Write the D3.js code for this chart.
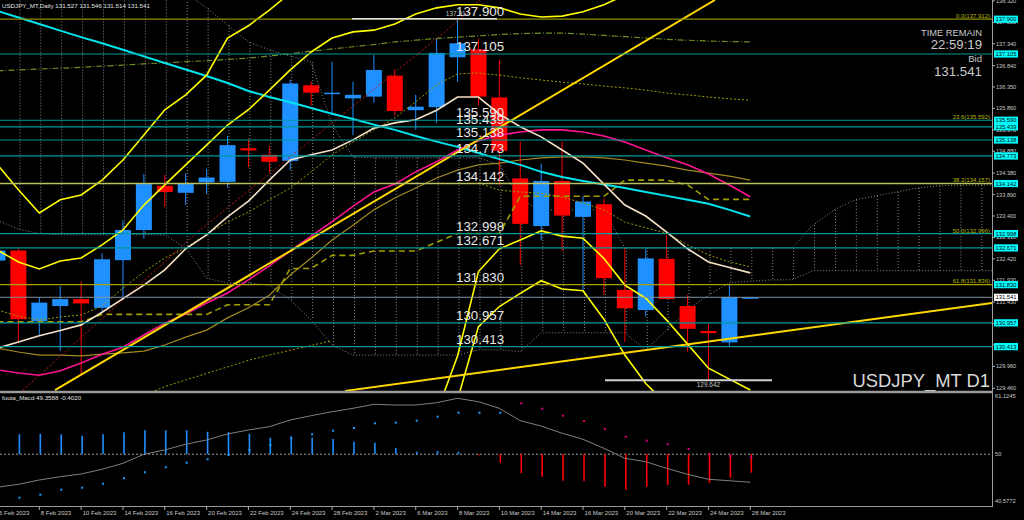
<!DOCTYPE html>
<html><head><meta charset="utf-8">
<script src="https://cdn.jsdelivr.net/npm/d3@7"></script>
<style>html,body{margin:0;padding:0;background:#000;overflow:hidden}svg{display:block}text{font-family:"Liberation Sans",Arial,sans-serif}</style>
</head><body><svg id="c" width="1024" height="520"></svg>
<script>
// ---------- data ----------
const dates = ["6 Feb 2023","7 Feb 2023","8 Feb 2023","9 Feb 2023","10 Feb 2023","13 Feb 2023","14 Feb 2023","15 Feb 2023","16 Feb 2023","17 Feb 2023","20 Feb 2023","21 Feb 2023","22 Feb 2023","23 Feb 2023","24 Feb 2023","27 Feb 2023","28 Feb 2023","1 Mar 2023","2 Mar 2023","3 Mar 2023","6 Mar 2023","7 Mar 2023","8 Mar 2023","9 Mar 2023","10 Mar 2023","13 Mar 2023","14 Mar 2023","15 Mar 2023","16 Mar 2023","17 Mar 2023","20 Mar 2023","21 Mar 2023","22 Mar 2023","23 Mar 2023","24 Mar 2023","27 Mar 2023","28 Mar 2023"];
const open  = [132.38,132.61,130.99,131.34,131.50,131.30,132.39,133.08,134.09,133.93,134.17,134.18,134.95,134.80,134.66,136.39,136.20,136.09,136.13,136.61,135.82,135.89,137.03,137.21,136.11,134.26,133.17,134.20,133.38,133.67,131.71,131.25,132.42,131.34,130.77,130.51,131.527];
const high  = [132.90,132.70,131.53,131.80,131.90,132.55,133.30,134.36,134.34,134.38,134.48,135.23,135.17,135.00,136.52,136.48,136.93,136.47,137.08,136.75,136.17,137.45,137.912,137.45,136.98,135.10,134.60,135.10,133.85,133.80,132.67,132.65,132.97,131.59,130.93,131.82,131.546];
const low   = [131.90,130.50,130.68,130.32,129.79,131.22,131.48,132.88,133.61,133.65,133.90,134.05,134.52,134.40,134.45,135.93,135.71,135.25,135.99,135.70,135.37,135.53,136.47,135.92,134.10,132.28,132.85,132.60,131.70,131.60,130.52,131.10,131.50,130.30,129.642,130.43,131.514];
const close = [132.61,131.04,131.42,131.50,131.40,132.41,133.08,134.13,133.95,134.14,134.28,135.02,134.90,134.64,136.43,136.22,136.22,136.17,136.74,135.80,135.90,137.13,137.35,136.13,134.89,133.22,134.20,133.41,133.73,131.98,131.29,132.43,131.50,130.82,130.72,131.55,131.541];

const maFast  = [130.38,130.52,130.66,130.78,130.91,131.20,131.51,131.82,132.17,132.65,132.97,133.38,133.74,134.22,134.68,134.80,134.91,135.14,135.41,135.53,135.60,135.82,136.12,136.12,135.73,135.44,135.21,134.91,134.61,134.13,133.65,133.40,133.03,132.65,132.35,132.22,132.10];
const maMid   = [129.88,129.81,129.76,129.86,130.04,130.24,130.40,130.68,130.95,131.16,131.41,131.64,131.94,132.26,132.60,132.94,133.27,133.62,133.95,134.13,134.41,134.64,134.91,135.12,135.25,135.32,135.37,135.37,135.32,135.23,135.09,134.91,134.73,134.57,134.36,134.11,133.84];
const maLong  = [138.09,137.94,137.79,137.64,137.49,137.35,137.20,137.05,136.90,136.75,136.60,136.44,136.26,136.12,136.00,135.87,135.74,135.62,135.49,135.37,135.23,135.10,134.98,134.84,134.70,134.57,134.41,134.29,134.20,134.12,134.04,133.95,133.86,133.77,133.68,133.54,133.39];
const maOlive = [130.38,130.29,130.22,130.22,130.20,130.24,130.27,130.31,130.45,130.63,130.79,131.07,131.30,131.59,132.05,132.44,132.85,133.19,133.54,133.81,134.04,134.27,134.45,134.57,134.61,134.68,134.73,134.75,134.75,134.73,134.68,134.61,134.54,134.45,134.38,134.31,134.22];
const maDotted = [131.25,131.11,131.02,131.09,131.14,131.34,131.75,132.12,132.44,132.67,132.99,133.26,133.49,133.77,134.04,134.41,134.80,135.09,135.37,135.64,136.01,136.40,136.65,136.67,136.62,136.56,136.51,136.46,136.42,136.37,136.33,136.28,136.21,136.17,136.12,136.08,136.05];
const envDown = [null,null,null,null,null,null,null,null,null,null,null,null,null,null,null,null,null,null,null,null,null,null,null,134.16,133.99,133.95,133.92,133.83,133.70,133.54,133.26,133.13,133.01,132.74,132.51,132.35,132.24];
const envLow  = [null,null,null,null,null,null,null,129.30,129.50,129.65,129.80,129.95,130.10,130.22,130.33,130.44,130.55];
const maGreen = [136.72,136.74,136.76,136.78,136.80,136.83,136.85,136.88,136.90,136.93,136.95,136.98,137.01,137.06,137.11,137.17,137.22,137.27,137.32,137.38,137.42,137.46,137.49,137.52,137.55,137.57,137.58,137.58,137.56,137.53,137.50,137.47,137.44,137.42,137.40,137.39,137.38];
const kijun   = [130.98,130.98,130.98,130.98,130.98,131.15,131.15,131.15,131.15,131.15,131.15,131.37,131.37,131.37,132.20,132.20,132.50,132.50,132.60,132.60,132.60,132.80,133.00,133.00,133.00,133.85,133.85,133.85,133.85,133.85,134.22,134.22,134.22,134.11,133.78,133.78,133.78];

const bbUp2  = [132.62,132.35,132.19,132.37,132.44,132.74,133.08,133.65,134.11,134.57,135.02,135.48,135.83,136.28,136.74,137.15,137.47,137.61,137.65,137.79,138.02,138.16,138.23,138.23,138.16,138.02,137.95,137.97,138.07,138.23,138.45,138.70];
const bbUp3  = [134.57,134.00,133.47,133.77,133.88,134.22,134.68,135.25,135.83,136.17,136.62,137.47,137.75,138.11,138.50,138.90];
const bbLow2 = [null,null,null,null,null,null,null,null,null,null,null,null,null,null,null,null,null,null,null,null,null,128.90,130.20,132.13,132.65,132.85,133.06,132.94,132.89,132.43,131.82,131.52,131.02,130.47,129.92,129.67,129.42];
const bbLow3 = [null,null,null,null,null,null,null,null,null,null,null,null,null,null,null,null,null,null,null,null,null,null,129.20,130.87,131.33,131.63,131.92,131.73,131.69,131.04,130.22,129.57,129.10,128.50,128.00,127.70,127.50];

// Ichimoku cloud edges (bars 0..48, cloud runs past the last bar)
const spanA = [138.6,138.6,138.6,138.6,138.6,138.6,138.6,138.6,138.6,138.5,138.16,137.77,137.38,137.20,137.06,136.92,135.48,134.75,134.73,134.73,134.73,134.73,134.73,134.73,134.57,133.77,133.54,133.54,133.54,133.54,132.67,132.67,132.67,132.67,132.67,132.67,132.67,132.67,132.67,133.19,133.54,133.77,133.86,133.95,134.04,134.09,134.10,134.11,134.11];
const spanB = [133.30,133.10,133.00,132.97,132.97,132.97,132.97,132.97,132.97,132.67,131.98,131.87,131.87,131.82,131.48,131.02,130.45,130.22,130.22,130.22,130.22,130.22,130.22,130.34,130.34,130.30,130.73,130.73,130.73,130.73,130.73,130.34,130.79,131.25,131.59,131.87,131.91,131.94,131.94,132.15,132.15,132.15,132.15,132.15,132.15,132.15,132.15,132.15,132.15];

const redTrend  = [[1.22,129.42],[9.68,133.08],[21.50,137.65],[23.07,138.34]];
const trendUp   = [[2.75,129.42],[34.31,138.34]];
const trendLow  = [[16.62,129.40],[47.56,131.41]];

const levels   = [137.900,137.105,135.590,135.439,135.138,134.773,134.142,132.998,132.671,131.830,130.957,130.413];
const fibPct   = ["0.0","23.6","38.2","50.0","61.8"];
const fibPrice = [137.912,135.592,134.157,132.996,131.836];
const bid = 131.541;
const axisTicks = [138.320,137.830,137.340,136.840,136.350,135.860,135.370,134.880,134.380,133.890,133.400,132.910,132.420,131.930,131.430,130.940,130.450,129.960,129.460];
const lowMark = 129.642, highMark = 137.912;

const macdHist = [53.5,53.61,53.72,53.61,53.36,53.61,53.97,54.34,54.34,54.34,54.08,54.03,53.72,52.99,53.25,52.99,52.76,52.27,52.09,51.12,50.45,50.58,50.45,49.8,48.45,46.52,45.91,45.18,45.07,44.09,43.54,44.09,44.40,44.45,44.76,45.72,46.63];
const macdLine = [43.98,44.52,45.31,45.91,46.40,47.25,48.34,49.98,50.76,51.80,52.58,53.67,54.40,55.00,56.22,57.00,57.72,58.34,59.07,58.94,58.94,59.36,60.16,59.54,58.34,56.09,55.12,53.80,52.71,51.07,49.25,48.63,47.43,46.34,45.43,45.17,44.89];
const macdDots = [null,42.09,42.63,43.54,43.91,44.63,45.62,46.71,47.62,48.45,49.07,49.85,50.76,51.67,52.89,53.62,54.27,54.76,55.61,55.72,56.09,56.82,57.54,57.54,57.54,59.25,58.27,57.00,56.03,54.58,53.18,52.46,51.80,50.94,50.03,49.67,49.43];
const macdTicks = ["61.1245","50","40.5772"];

// ---------- setup ----------
const svg = d3.select('#c');
svg.append('rect').attr('width',1024).attr('height',520).attr('fill','#000');
const defs = svg.append('defs');
defs.append('clipPath').attr('id','cm').append('rect').attr('x',0).attr('y',0).attr('width',992).attr('height',391);
defs.append('clipPath').attr('id','cs').append('rect').attr('x',0).attr('y',394).attr('width',992).attr('height',112);

const x  = d3.scaleLinear().domain([0,36]).range([-2.5,750.3]);
const y  = d3.scaleLinear().domain([129.46,137.34]).range([388.3,43.7]);
const ym = d3.scaleLinear().domain([40.5772,61.1245]).range([506,393]);

const main = svg.append('g').attr('clip-path','url(#cm)');
const sub  = svg.append('g').attr('clip-path','url(#cs)');
const line = d3.line().defined(d=>d!=null).x((d,i)=>x(i)).y(d=>y(d));
const tl = d3.line().x(d=>x(d[0])).y(d=>y(d[1]));
const path=(g,data,col,w,dash,gen)=>g.append('path').datum(data).attr('d',gen||line).attr('fill','none').attr('stroke',col).attr('stroke-width',w).attr('stroke-dasharray',dash||null);

// Ichimoku cloud hatching
const DOT='1,2';
spanA.forEach((a,i)=>{
  main.append('line').attr('x1',x(i)+1.5).attr('x2',x(i)+1.5).attr('y1',y(a)).attr('y2',y(spanB[i])).attr('stroke','#8a8a8a').attr('stroke-dasharray',DOT);
});
path(main,spanA,'#8a8a8a',1,DOT);
path(main,spanB,'#8a8a8a',1,DOT);

// candles
const BULL='#1e90ff', BEAR='#ff0000';
const cg = main.append('g');
open.forEach((o,i)=>{
  const c=close[i], col = c>=o?BULL:BEAR;
  cg.append('line').attr('x1',x(i)).attr('x2',x(i)).attr('y1',y(high[i])).attr('y2',y(low[i])).attr('stroke',col).attr('stroke-width',1);
  const t=y(Math.max(o,c)), b=y(Math.min(o,c));
  cg.append('rect').attr('x',x(i)-8).attr('width',16).attr('y',t).attr('height',Math.max(1.5,b-t)).attr('fill',col);
});

// indicator lines
path(main,maGreen,'#6b8e23',1.2,'6,2,1,2');
path(main,maDotted,'#a09a00',1,'2,2');
path(main,envDown,'#a09a00',1,'2,2');
path(main,envLow,'#a09a00',1,'2,2');
path(main,maOlive,'#a08a20',1.2);
path(main,kijun,'#a0a000',1.6,'6,4');
path(main,redTrend,'#c01818',1,'2,2',tl);
path(main,maLong,'#00e5ee',2);
path(main,maMid,'#ff1493',1.6);
path(main,maFast,'#f5e1c8',1.6);
[bbUp2,bbUp3,bbLow2,bbLow3].forEach(b=>path(main,b,'#ffff00',1.6));
path(main,trendUp,'#ffd700',2,null,tl);
path(main,trendLow,'#ffd700',2,null,tl);

// horizontal levels
const levelCol = ['#8c8c00','#009a9a','#009a9a','#009a9a','#009a9a','#009a9a','#b8c060','#009a9a','#009a9a','#a8a000','#009a9a','#009a9a'];
levels.forEach((v,k)=>{
  main.append('line').attr('x1',0).attr('x2',992).attr('y1',y(v)).attr('y2',y(v)).attr('stroke',levelCol[k]).attr('stroke-width',k===6?1.6:1.2);
});
main.append('line').attr('x1',0).attr('x2',992).attr('y1',y(bid)).attr('y2',y(bid)).attr('stroke','#8090a0').attr('stroke-width',1);
levels.forEach(v=>{
  main.append('text').attr('x',456).attr('y',y(v)-3).attr('fill','#e8e8e8').attr('font-size',13.3).text(v.toFixed(3));
});
fibPrice.forEach((v,k)=>{
  main.append('text').attr('x',990).attr('y',y(v)-1).attr('text-anchor','end').attr('fill','#b8b800').attr('font-size',6).text(fibPct[k]+'('+v.toFixed(3)+')');
});

// high/low markers
main.append('line').attr('x1',352).attr('x2',497).attr('y1',y(highMark)).attr('y2',y(highMark)).attr('stroke','#e0e0e0').attr('stroke-width',1.5);
main.append('text').attr('x',x(22)).attr('y',y(highMark)-3).attr('text-anchor','middle').attr('fill','#c0c0c0').attr('font-size',6.5).text(highMark.toFixed(3));
main.append('line').attr('x1',605).attr('x2',772).attr('y1',y(lowMark)).attr('y2',y(lowMark)).attr('stroke','#d0d0d0').attr('stroke-width',2);
main.append('text').attr('x',x(34)).attr('y',y(lowMark)+7).attr('text-anchor','middle').attr('fill','#c0c0c0').attr('font-size',6.5).text(lowMark.toFixed(3));

// texts
main.append('text').attr('x',2).attr('y',8).attr('fill','#e0e0e0').attr('font-size',6.2).text('USDJPY_MT,Daily  '+[open[36],high[36],low[36],close[36]].map(v=>v.toFixed(3)).join(' '));
const info=[['TIME REMAIN',35.7,9.3],['22:59:19',48.7,13.2],['Bid',62.3,9.5],[bid.toFixed(3),75.7,13.3]];
info.forEach(d=>main.append('text').attr('x',982).attr('y',d[1]).attr('text-anchor','end').attr('fill','#c8c8c8').attr('font-size',d[2]).text(d[0]));
main.append('text').attr('x',990).attr('y',386.7).attr('text-anchor','end').attr('fill','#d8d8d8').attr('font-size',18.4).text('USDJPY_MT D1');

// frame
svg.append('line').attr('x1',0).attr('x2',992).attr('y1',392).attr('y2',392).attr('stroke','#9a9a9a').attr('stroke-width',2.5);
svg.append('line').attr('x1',992.5).attr('x2',992.5).attr('y1',0).attr('y2',506).attr('stroke','#9a9a9a').attr('stroke-width',1);
svg.append('line').attr('x1',0).attr('x2',993).attr('y1',506.5).attr('y2',506.5).attr('stroke','#9a9a9a').attr('stroke-width',1);

// right axis
const ax = svg.append('g');
axisTicks.forEach(v=>{
  ax.append('line').attr('x1',992).attr('x2',995).attr('y1',y(v)).attr('y2',y(v)).attr('stroke','#aaa');
  ax.append('text').attr('x',996).attr('y',y(v)+2).attr('fill','#c8c8c8').attr('font-size',5.6).text(v.toFixed(3));
});
levels.forEach(v=>{
  ax.append('rect').attr('x',994).attr('y',y(v)-3.6).attr('width',24).attr('height',7.2).attr('fill','#00ffff');
  ax.append('text').attr('x',995.5).attr('y',y(v)+2.1).attr('fill','#000').attr('font-size',5.8).text(v.toFixed(3));
});
ax.append('rect').attr('x',994).attr('y',y(bid)-3.6).attr('width',24).attr('height',7.2).attr('fill','#fff');
ax.append('text').attr('x',995.5).attr('y',y(bid)+2.1).attr('fill','#000').attr('font-size',5.8).text(bid.toFixed(3));

// MACD subwindow
sub.append('line').attr('x1',0).attr('x2',992).attr('y1',ym(50)).attr('y2',ym(50)).attr('stroke','#a0a0a0').attr('stroke-dasharray','2,2');
macdHist.forEach((v,i)=>{
  sub.append('line').attr('x1',x(i)+1).attr('x2',x(i)+1).attr('y1',ym(50)).attr('y2',ym(v)).attr('stroke',v>=50?BULL:BEAR).attr('stroke-width',1.6);
});
sub.append('path').datum(macdLine).attr('d',d3.line().x((d,i)=>x(i)).y(d=>ym(d))).attr('fill','none').attr('stroke','#808080').attr('stroke-width',1);
macdDots.forEach((v,i)=>{ if(v==null) return;
  sub.append('rect').attr('x',x(i)).attr('y',ym(v)-1).attr('width',2).attr('height',2).attr('fill',i>=25?'#e0007a':'#1e9fff');
});
svg.append('text').attr('x',2).attr('y',400).attr('fill','#e0e0e0').attr('font-size',6.2).text('fuuta_Macd 49.3588  -0.4020');
macdTicks.forEach((v,k)=>{
  const yy = k===0?398:(k===2?503:ym(+v)+2);
  svg.append('text').attr('x',995).attr('y',yy).attr('fill','#c8c8c8').attr('font-size',5.7).text(v);
});

// time axis
dates.forEach((d,i)=>{ if(i%2) return;
  svg.append('line').attr('x1',x(i)).attr('x2',x(i)).attr('y1',506).attr('y2',510).attr('stroke','#aaa');
  svg.append('text').attr('x',x(i)+1.5).attr('y',515).attr('fill','#c8c8c8').attr('font-size',6).text(d);
});
</script></body></html>
